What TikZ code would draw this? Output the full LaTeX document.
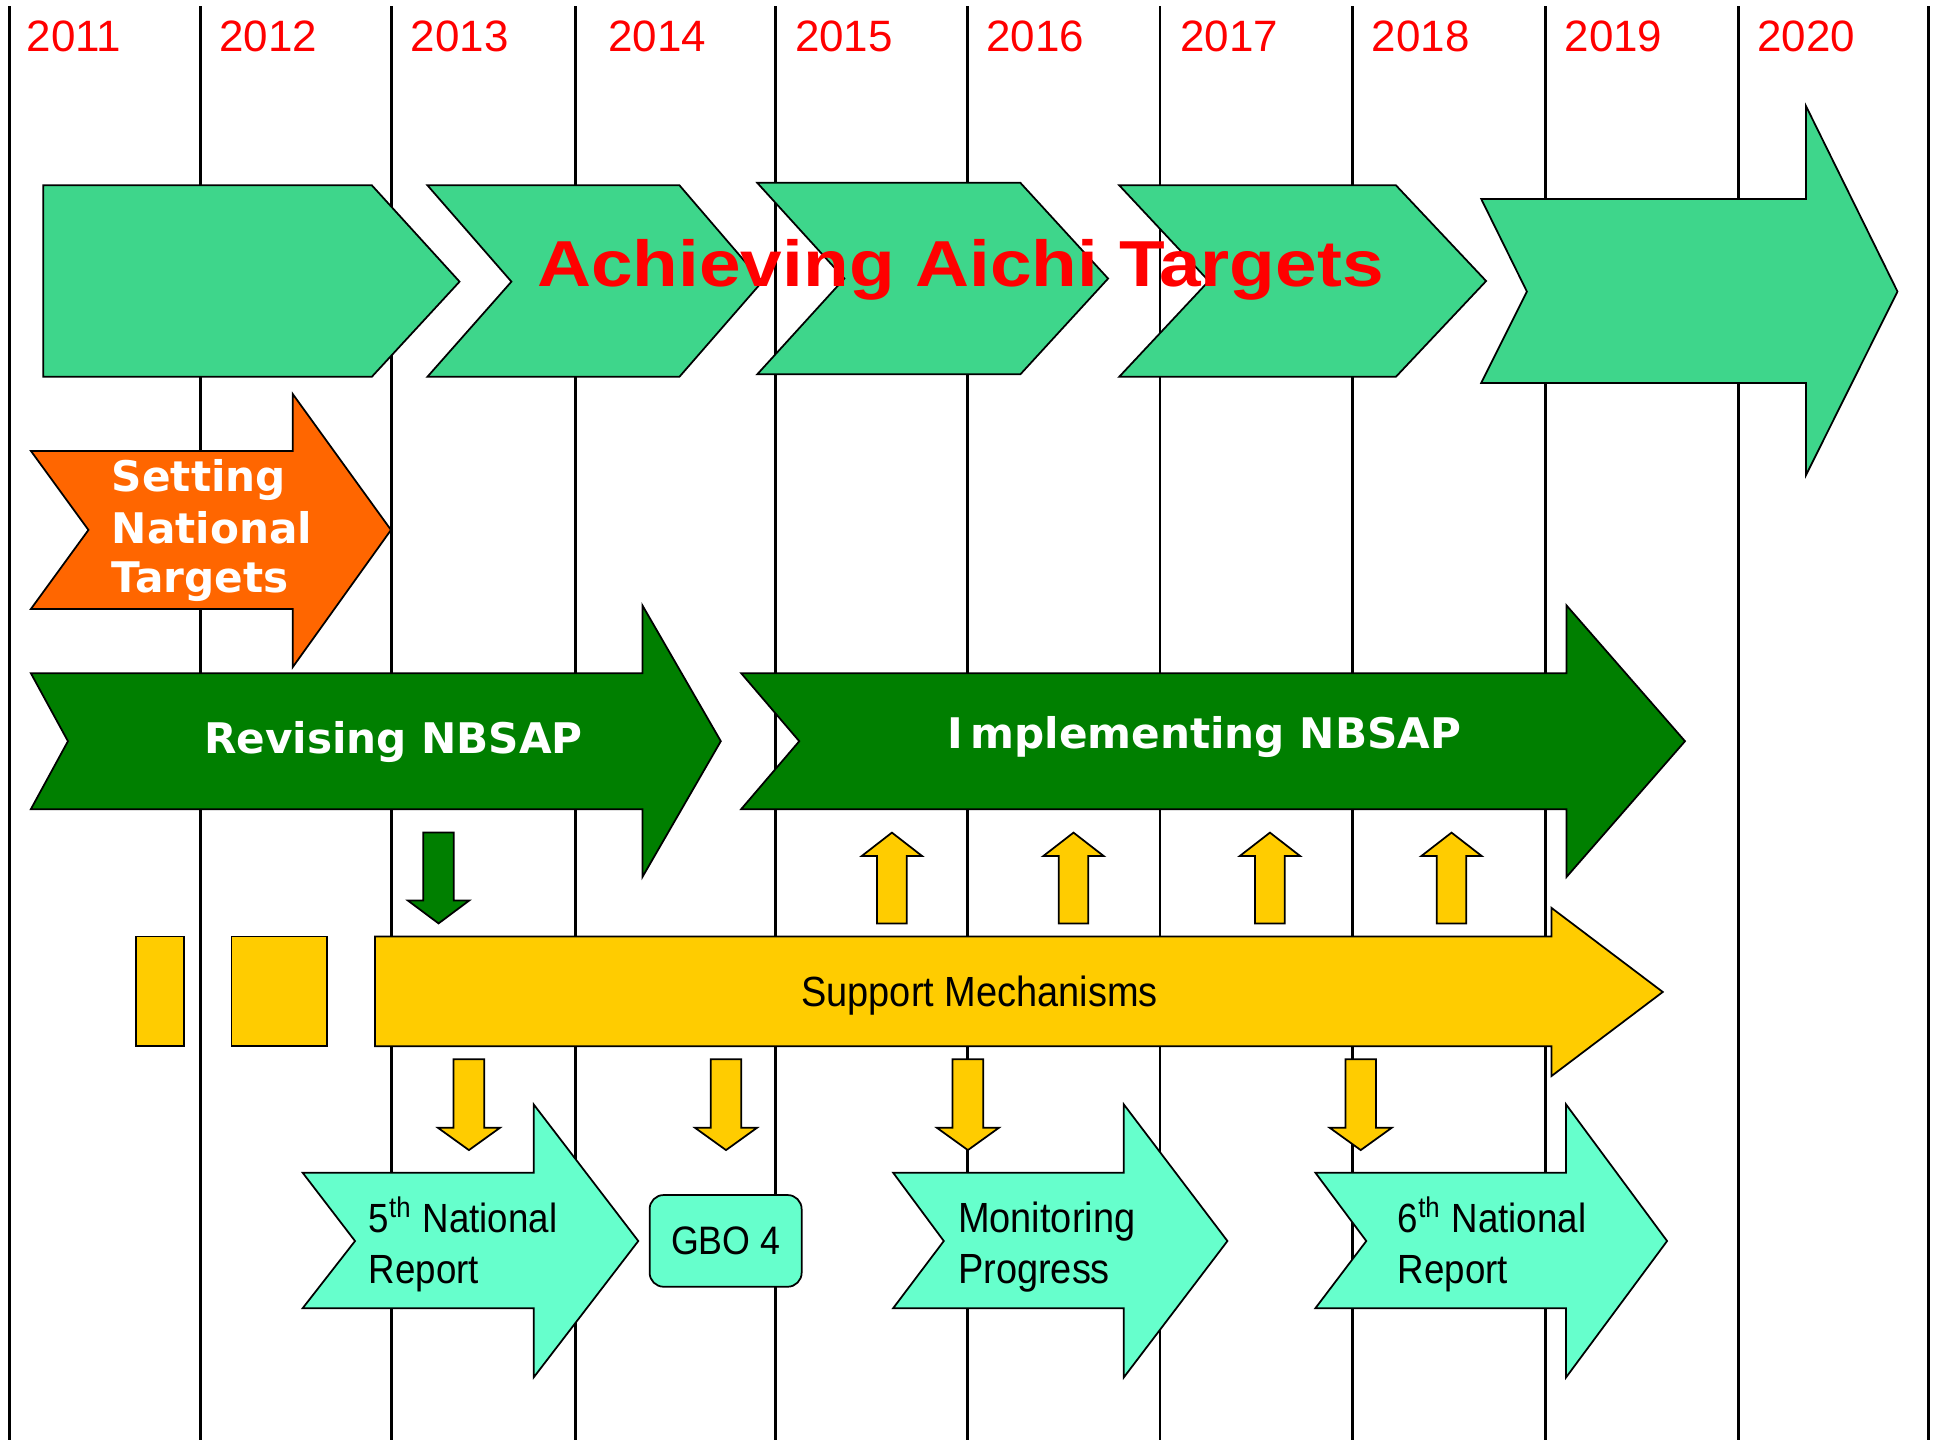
\documentclass[tikz,border=0pt]{standalone}
\usepackage{fontspec}
\setmainfont{Liberation Sans}
\newfontfamily\aichifont[FakeStretch=1.15]{Liberation Sans}
\newfontfamily\narrowfont[FakeStretch=0.9]{Liberation Sans}
\newfontfamily\nbsapfont{DejaVu Sans}

\definecolor{aichigreen}{HTML}{3ED68B}
\definecolor{settingorange}{HTML}{FF6600}
\definecolor{nbsapgreen}{HTML}{007F00}
\definecolor{supportyellow}{HTML}{FFCC00}
\definecolor{reportmint}{HTML}{66FFCC}

\begin{document}
\begin{tikzpicture}[x=0.12353mm, y=-0.12353mm, line join=miter,
  yearline/.style={line width=0.8pt},
  yearlabel/.style={anchor=base west, inner sep=0, text=red, font=\fontsize{12.5}{15}\selectfont},
  aichi/.style={draw=black, line width=0.5pt, fill=aichigreen},
  setting/.style={draw=black, line width=0.5pt, fill=settingorange},
  nbsap/.style={draw=black, line width=0.5pt, fill=nbsapgreen},
  support/.style={draw=black, line width=0.5pt, fill=supportyellow},
  report/.style={draw=black, line width=0.5pt, fill=reportmint},
  boldlabel/.style={anchor=base west, inner sep=0, text=white, font=\nbsapfont\bfseries\fontsize{12}{14.4}\selectfont},
  narrowlabel/.style={anchor=base west, inner sep=0, font=\narrowfont\fontsize{12}{14.4}\selectfont},
  reportlabel/.style={anchor=base west, inner sep=0, font=\narrowfont\fontsize{11.6}{14}\selectfont}]

\useasboundingbox (0,0) rectangle (1568,1166);

% --- Year grid ---
\foreach \x in {8,162,317,466,628,783,939,1095,1251,1407,1561}
  \draw[yearline] (\x,5) -- (\x,1166);

\foreach \x/\yr in {21/2011,177/2012,332/2013,492/2014,643/2015,798/2016,955/2017,1110/2018,1266/2019,1422/2020}
  \node[yearlabel] (y\yr) at (\x,42) {\yr};

% --- Achieving Aichi Targets (chevrons) ---
\draw[aichi] (35,150) -- (301,150) -- (372,228) -- (301,305) -- (35,305) -- cycle;
\draw[aichi] (346,150) -- (550,150) -- (617,228) -- (550,305) -- (346,305) -- (414,228) -- cycle;
\draw[aichi] (613,148) -- (826,148) -- (897,225.5) -- (826,303) -- (613,303) -- (683.5,225.5) -- cycle;
\draw[aichi] (906,150) -- (1130,150) -- (1203,227.5) -- (1130,305) -- (906,305) -- (978.5,227.5) -- cycle;
\draw[aichi] (1199,161) -- (1462,161) -- (1462,86) -- (1536,236) -- (1462,384.5) -- (1462,310)
  -- (1199,310) -- (1236,236) -- cycle;

% --- Setting National Targets ---
\draw[setting] (25,365) -- (237,365) -- (237,319) -- (316.5,429) -- (237,540) -- (237,493)
  -- (25,493) -- (71.6,429) -- cycle;

% --- Revising / Implementing NBSAP ---
\draw[nbsap] (25,545) -- (520,545) -- (520,490) -- (583.5,600) -- (520,710) -- (520,655)
  -- (25,655) -- (55,600) -- cycle;
\draw[nbsap] (600,545) -- (1268,545) -- (1268,490) -- (1364,600) -- (1268,710) -- (1268,655)
  -- (600,655) -- (647,600) -- cycle;

% small arrows between the bands
\draw[nbsap] (342.6,674) -- (367.4,674) -- (367.4,729) -- (379.8,729) -- (355,747.5)
  -- (330.2,729) -- (342.6,729) -- cycle;
\foreach \c in {722,869,1028,1175}
  \draw[support] ({\c-12},747.5) -- ({\c-12},693) -- ({\c-24.5},693) -- (\c,674)
    -- ({\c+24.5},693) -- ({\c+12},693) -- ({\c+12},747.5) -- cycle;

% --- Support Mechanisms ---
\draw[support] (110,758) rectangle (148.7,847);
\draw[support] (187.4,758) rectangle (265,847);
\draw[support] (303.6,758) -- (1256,758) -- (1256,735) -- (1346,803) -- (1256,871) -- (1256,847)
  -- (303.6,847) -- cycle;

\foreach \c in {379.6,587.7,783.5,1101.5}
  \draw[support] ({\c-12.4},857.5) -- ({\c+12.4},857.5) -- ({\c+12.4},913) -- ({\c+25},913)
    -- (\c,931) -- ({\c-25},913) -- ({\c-12.4},913) -- cycle;

% --- Reports ---
\draw[report] (245,949.3) -- (432,949.3) -- (432,894) -- (516.7,1004.6) -- (432,1115) -- (432,1059)
  -- (245,1059) -- (287.4,1004.6) -- cycle;
\draw[report] (723,949.3) -- (909.7,949.3) -- (909.7,894) -- (993.6,1004.6) -- (909.7,1115)
  -- (909.7,1059) -- (723,1059) -- (764,1004.6) -- cycle;
\draw[report] (1064.8,949.3) -- (1267.7,949.3) -- (1267.7,894) -- (1349.5,1004.6) -- (1267.7,1115)
  -- (1267.7,1059) -- (1064.8,1059) -- (1106,1004.6) -- cycle;
\node[report, rounded corners=1.4mm, minimum width=15.2mm, minimum height=9.17mm,
  font=\narrowfont\fontsize{11.3}{14}\selectfont] (gbo) at (587.4,1004.5) {GBO 4};

% --- Labels ---
\node[anchor=base, inner sep=0, text=red, font=\aichifont\bfseries\fontsize{18.5}{22}\selectfont]
  (aichi) at (777.5,232) {Achieving Aichi Targets};

\node[boldlabel] (set1) at (90,398) {Setting};
\node[boldlabel] (set2) at (90,440) {National};
\node[boldlabel] (set3) at (90,480) {Targets};

\node[boldlabel, anchor=base] (revising) at (318.5,610) {Revising NBSAP};
\node[boldlabel, anchor=base] (implementing) at (975,606) {I\,mplementing NBSAP};

\node[narrowlabel, anchor=base] (supportlbl) at (793,815) {Support Mechanisms};

\node[reportlabel] (fifth1) at (298,998) {5\textsuperscript{th} National};
\node[reportlabel] (fifth2) at (298,1039) {Report};
\node[narrowlabel] (mon1) at (775,998) {Monitoring};
\node[narrowlabel] (mon2) at (775,1039) {Progress};
\node[reportlabel] (sixth1) at (1131,998) {6\textsuperscript{th} National};
\node[reportlabel] (sixth2) at (1131,1039) {Report};

\end{tikzpicture}
\end{document}
